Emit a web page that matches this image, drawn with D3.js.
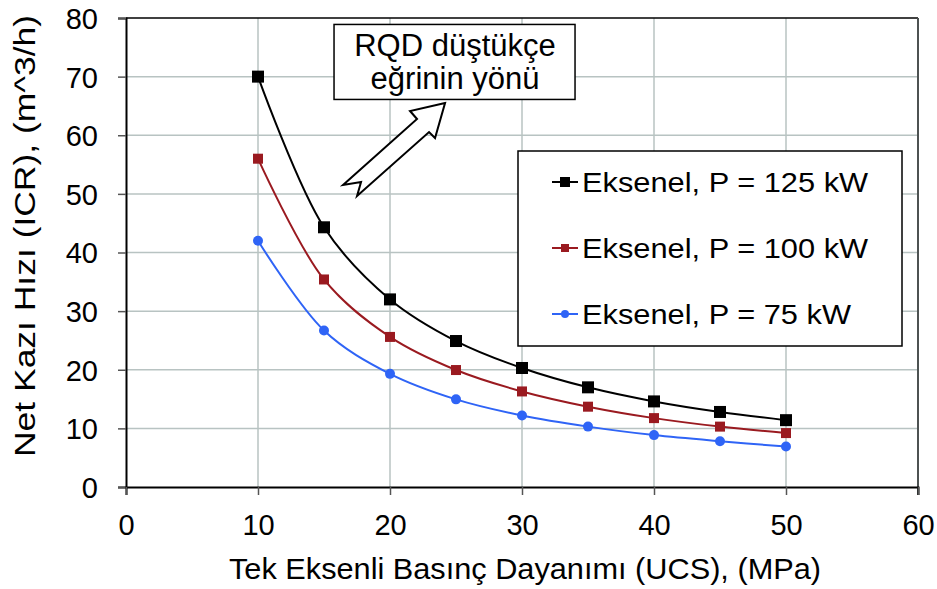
<!DOCTYPE html>
<html>
<head>
<meta charset="utf-8">
<script src="https://cdn.jsdelivr.net/npm/d3@7"></script>
<style>
  body { margin: 0; background: #fff; }
  svg { display: block; font-family: "Liberation Sans", Arial, Helvetica, sans-serif; }
</style>
</head>
<body>
<svg id="chart" width="937" height="589"></svg>
<script>
// UCS values (MPa) on the x axis
const ucs = [10, 15, 20, 25, 30, 35, 40, 45, 50];

// Net cutting rate (m^3/h) for each cutter power
const icr125 = [70, 44.3, 32.0, 24.9, 20.3, 17.0, 14.6, 12.8, 11.4];
const icr100 = [56, 35.4, 25.6, 19.95, 16.3, 13.7, 11.75, 10.3, 9.2];
const icr75  = [42, 26.7, 19.3, 14.95, 12.2, 10.3, 8.85, 7.8, 6.9];

const seriesNames = ["Eksenel, P = 125 kW", "Eksenel, P = 100 kW", "Eksenel, P = 75 kW"];

// Tick values
const xTicks = [0, 10, 20, 30, 40, 50, 60];
const yTicks = [0, 10, 20, 30, 40, 50, 60, 70, 80];

const xTitle = "Tek Eksenli Basınç Dayanımı (UCS), (MPa)";
const yTitle = "Net Kazı Hızı (ICR), (m^3/h)";
const noteLines = ["RQD düştükçe", "eğrinin yönü"];

const svg = d3.select("#chart");
const plotL = 126, plotR = 918, plotT = 18, plotB = 487;

const x = d3.scaleLinear().domain([0, 60]).range([plotL, plotR]);
const y = d3.scaleLinear().domain([0, 80]).range([plotB, plotT]);

const gridColor = "#b8c3c2";

// grid lines
svg.append("g").selectAll("line")
  .data(xTicks.filter(d => d > 0 && d < 60))
  .join("line")
  .attr("x1", d => x(d)).attr("x2", d => x(d))
  .attr("y1", plotT).attr("y2", plotB)
  .attr("stroke", gridColor).attr("stroke-width", 1.5);

svg.append("g").selectAll("line")
  .data(yTicks.filter(d => d > 0 && d < 80))
  .join("line")
  .attr("x1", plotL).attr("x2", plotR)
  .attr("y1", d => y(d)).attr("y2", d => y(d))
  .attr("stroke", gridColor).attr("stroke-width", 1.5);

// plot frame: top and right edges
svg.append("line")
  .attr("x1", plotL).attr("x2", plotR).attr("y1", plotT).attr("y2", plotT)
  .attr("stroke", "#000").attr("stroke-width", 1.5);
svg.append("line")
  .attr("x1", plotR).attr("x2", plotR).attr("y1", plotT).attr("y2", plotB + 8)
  .attr("stroke", "#4d5252").attr("stroke-width", 2);

// axes
const yAxis = svg.append("g")
  .attr("transform", `translate(${plotL},0)`)
  .call(d3.axisLeft(y).tickValues(yTicks).tickSize(8).tickPadding(20));
const xAxis = svg.append("g")
  .attr("transform", `translate(0,${plotB})`)
  .call(d3.axisBottom(x).tickValues(xTicks).tickSize(8).tickPadding(19));

[yAxis, xAxis].forEach(g => {
  g.select(".domain").attr("stroke", "#000").attr("stroke-width", 2);
  g.selectAll(".tick line").attr("stroke", "#555").attr("stroke-width", 1.5);
  g.selectAll(".tick text")
    .attr("fill", "#000")
    .style("font-size", "29px")
    .style("font-family", "'Liberation Sans', Arial, sans-serif");
});
yAxis.selectAll(".tick text").attr("dy", "0.36em");
xAxis.selectAll(".tick text").attr("dy", "0.71em");

// axis titles
svg.append("text")
  .attr("x", 525).attr("y", 579)
  .attr("text-anchor", "middle")
  .attr("textLength", 592)
  .attr("lengthAdjust", "spacingAndGlyphs")
  .style("font-size", "30px")
  .text(xTitle);

svg.append("text")
  .attr("transform", "translate(35,236) rotate(-90)")
  .attr("text-anchor", "middle")
  .attr("textLength", 442)
  .attr("lengthAdjust", "spacingAndGlyphs")
  .style("font-size", "30px")
  .text(yTitle);

// series
const series = [
  { name: seriesNames[0], values: icr125, color: "#000000", shape: "square", size: 12 },
  { name: seriesNames[1], values: icr100, color: "#9a1a20", shape: "square", size: 10 },
  { name: seriesNames[2], values: icr75,  color: "#2f64f6", shape: "circle", size: 10 }
];

const line = d3.line()
  .x((d, i) => x(ucs[i]))
  .y(d => y(d))
  .curve(d3.curveCatmullRom.alpha(0.5));

function drawMarker(g, s, cx, cy) {
  if (s.shape === "square") {
    g.append("rect")
      .attr("x", cx - s.size / 2).attr("y", cy - s.size / 2)
      .attr("width", s.size).attr("height", s.size)
      .attr("fill", s.color);
  } else {
    g.append("circle")
      .attr("cx", cx).attr("cy", cy).attr("r", s.size / 2)
      .attr("fill", s.color);
  }
}

series.forEach(s => {
  svg.append("path")
    .attr("d", line(s.values))
    .attr("fill", "none")
    .attr("stroke", s.color)
    .attr("stroke-width", 2);
  const g = svg.append("g");
  s.values.forEach((v, i) => drawMarker(g, s, x(ucs[i]), y(v)));
});

// annotation box
const noteX = x(15.76), noteY = y(78.9);
svg.append("rect")
  .attr("x", noteX).attr("y", noteY)
  .attr("width", 241).attr("height", 75)
  .attr("fill", "#fff").attr("stroke", "#000").attr("stroke-width", 1.5);
svg.append("g").selectAll("text")
  .data(noteLines)
  .join("text")
  .attr("x", noteX + 121)
  .attr("y", (d, i) => noteY + 32 + i * 33)
  .attr("text-anchor", "middle")
  .style("font-size", "31px")
  .text(d => d);

// hollow block arrow pointing up-right
const tipX = x(24.17), tipY = y(65.5);
const arrowShape = [[0, 0], [-35, 8], [-28, 16], [-102, 82], [-84, 79], [-88, 93], [-16, 29], [-10, 35]];
svg.append("path")
  .attr("d", d3.line()(arrowShape.map(p => [tipX + p[0], tipY + p[1]])) + "Z")
  .attr("fill", "#fff").attr("stroke", "#000").attr("stroke-width", 2)
  .attr("stroke-linejoin", "miter");

// legend
const lg = svg.append("g");
lg.append("rect")
  .attr("x", 518).attr("y", 151).attr("width", 384).attr("height", 195)
  .attr("fill", "#fff").attr("stroke", "#000").attr("stroke-width", 1.5);
series.forEach((s, i) => {
  const ry = 182 + i * 66;
  lg.append("line")
    .attr("x1", 552).attr("x2", 578).attr("y1", ry).attr("y2", ry)
    .attr("stroke", s.color).attr("stroke-width", 2);
  drawMarker(lg, Object.assign({}, s, { size: s.size - 2 }), 565, ry);
  lg.append("text")
    .attr("transform", `translate(582,${ry + 10}) scale(1.12,1)`)
    .style("font-size", "27.5px")
    .text(s.name);
});
</script>
</body>
</html>
